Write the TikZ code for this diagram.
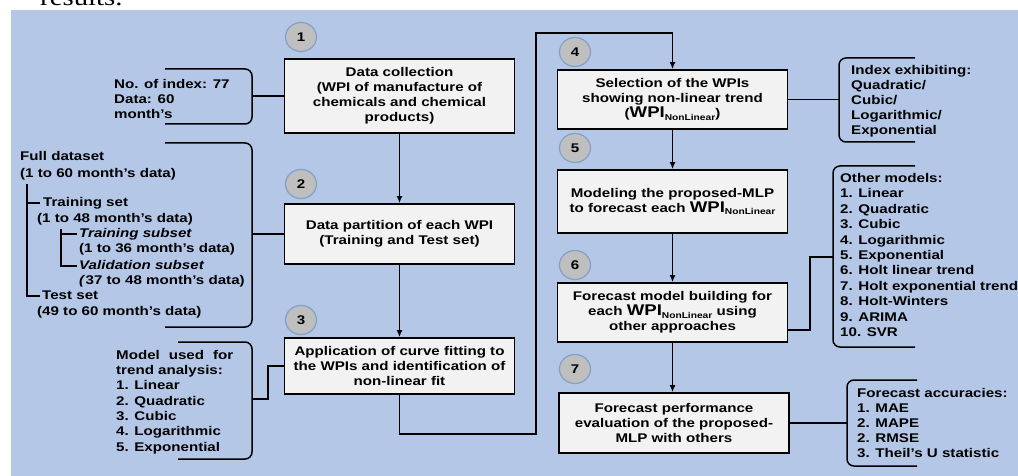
\documentclass[tikz,border=0pt]{standalone}
\usepackage{fontspec}
\setmainfont{Liberation Sans}[FakeStretch=1.2]
\newfontfamily\pageserif{Liberation Serif}[FakeStretch=1.2]
\usetikzlibrary{arrows.meta,shapes.geometric}
\definecolor{bgblue}{RGB}{180,199,231}
\definecolor{boxgray}{RGB}{242,242,242}
\definecolor{numgray}{RGB}{191,191,191}
\definecolor{numedge}{RGB}{132,160,199}
\tikzset{>={Latex[length=7pt,width=6pt]}}
\tikzset{
    stepbox/.style={draw,line width=1.8pt,fill=boxgray,minimum width=230pt,align=center,inner sep=0pt,font=\bfseries\fontsize{12.6}{15}\selectfont},
    stepnum/.style={ellipse,draw=numedge,line width=1.2pt,fill=numgray,minimum width=31pt,minimum height=29pt,inner sep=0pt,font=\bfseries\fontsize{12.6}{15}\selectfont},
    note/.style={align=left,inner sep=0pt,anchor=west,font=\bfseries\fontsize{12.6}{15}\selectfont},
    link/.style={line width=1.5pt},
    brline/.style={line width=1.5pt,rounded corners=7pt}
}
\newcommand{\wpi}{{\fontsize{15.5}{15}\selectfont WPI}\raisebox{-2.5pt}{\fontsize{8.5}{9}\selectfont NonLinear}}
\newcommand{\bracket}[4]{
    \draw[brline] (#1,#3) -- (#2,#3) -- (#2,#4) -- (#1,#4);
}

\begin{document}
\begin{tikzpicture}[x=1pt,y=-1pt]
    \useasboundingbox (0,0) rectangle (1018,476);
    \begin{scope}
        \clip (0,0) rectangle (1018,10);
        \node[anchor=base west,inner sep=0pt,font=\pageserif\fontsize{24}{24}\selectfont] (pagetext) at (40,6) {results.};
    \end{scope}
    \fill[bgblue] (11,10) rectangle (1018,476);
    % steps of the procedure
    \node[stepbox,minimum height=74pt] (collect) at (399.5,96) {Data collection\\(WPI of manufacture of\\chemicals and chemical\\products)};
    \node[stepbox,minimum height=60pt] (partition) at (399.5,234) {Data partition of each WPI\\(Training and Test set)};
    \node[stepbox,minimum height=56pt] (fitting) at (399.5,366) {Application of curve fitting to\\the WPIs and identification of\\non-linear fit};
    \node[stepbox,minimum height=59pt] (select) at (672.5,99.5) {Selection of the WPIs\\showing non-linear trend\\(\wpi)};
    \node[stepbox,minimum height=63pt] (mlp) at (672.5,201.5) {Modeling the proposed-MLP\\to forecast each \wpi};
    \node[stepbox,minimum height=59pt] (others) at (672.5,312.5) {Forecast model building for\\each \wpi{} using\\other approaches};
    \node[stepbox,minimum height=60pt] (evaluate) at (674,423) {Forecast performance\\evaluation of the proposed-\\MLP with others};
    \node[stepnum] (num1) at (301,37) {1};
    \node[stepnum] (num2) at (301,184) {2};
    \node[stepnum] (num3) at (301,320) {3};
    \node[stepnum] (num4) at (575,52) {4};
    \node[stepnum] (num5) at (575,148) {5};
    \node[stepnum] (num6) at (575,265) {6};
    \node[stepnum] (num7) at (575,369) {7};
    \draw[link,->] (collect) -- (partition);
    \draw[link,->] (partition) -- (fitting);
    \coordinate (loopcorner) at (536,33);
    \draw[link,->] (fitting.south) -- ++(0,39) -| (loopcorner) -| (select.north);
    \draw[link,->] (select) -- (mlp);
    \draw[link,->] (mlp) -- (others);
    \draw[link,->] (others.south) -- (others.south |- evaluate.north);
    % left side notes
    \node[note] (indexinfo) at (114,98.5) {No. of index: 77\\Data: 60\\month's};
    \bracket{165}{252}{69}{124}
    \coordinate (braceA) at (252,96);
    \draw[link] (braceA) -- (collect.west);
    \node[note,font=\bfseries\fontsize{12.6}{17}\selectfont] (fullset) at (20,165.5) {Full dataset\\(1 to 60 month's data)};
    \node[note,font=\bfseries\fontsize{12.6}{16}\selectfont] (trainset) at (37,211) {\hspace*{6pt}Training set\\(1 to 48 month's data)};
    \node[note] (trainsub) at (79,241.5) {\textit{Training subset}\\(1 to 36 month's data)};
    \node[note] (validsub) at (79,273.5) {\textit{Validation subset}\\\textit{(}37 to 48 month's data)};
    \node[note,font=\bfseries\fontsize{12.6}{16}\selectfont] (testset) at (37,304) {\hspace*{5pt}Test set\\(49 to 60 month's data)};
    \draw[link] ([xshift=7pt,yshift=-4pt]fullset.south west) |- ([xshift=3pt,yshift=8pt]testset.west);
    \draw[link] ([xshift=-10pt,yshift=8pt]trainset.west) -- ([xshift=3pt,yshift=8pt]trainset.west);
    \draw[link] ([xshift=-18pt,yshift=13pt]trainsub.west) |- ([xshift=-2pt,yshift=7.5pt]validsub.west);
    \draw[link] ([xshift=-18pt,yshift=7.5pt]trainsub.west) -- ([xshift=-2pt,yshift=7.5pt]trainsub.west);
    \bracket{165}{252}{143}{327}
    \coordinate (braceB) at (252,234);
    \draw[link] (braceB) -- (partition.west);
    \node[note,font=\bfseries\fontsize{12.6}{15.3}\selectfont] (trendmodels) at (116,402) {\makebox[117pt][s]{Model used for}\\trend analysis:\\1. Linear\\2. Quadratic\\3. Cubic\\4. Logarithmic\\5. Exponential};
    \bracket{178}{252}{342}{459}
    \coordinate (braceC) at (252,399);
    \draw[link] (braceC) -- ++(16,0) |- (fitting.west);
    % right side notes
    \node[note] (trendkind) at (851,101) {Index exhibiting:\\Quadratic/\\Cubic/\\Logarithmic/\\Exponential};
    \bracket{915}{839}{58}{142}
    \coordinate (braceD) at (839,99.5);
    \draw[link] (select.east) -- (braceD);
    \node[note,font=\bfseries\fontsize{12.6}{15.4}\selectfont] (othermodels) at (840,255) {Other models:\\1. Linear\\2. Quadratic\\3. Cubic\\4. Logarithmic\\5. Exponential\\6. Holt linear trend\\7. Holt exponential trend\\8. Holt-Winters\\9. ARIMA\\10. SVR};
    \bracket{915}{833}{166}{347}
    \coordinate (kneeE) at (810,257);
    \coordinate (braceE) at (833,257);
    \draw[link] ([yshift=-17.5pt]others.east) -| (kneeE) -- (braceE);
    \node[note] (accuracy) at (857,423) {Forecast accuracies:\\1. MAE\\2. MAPE\\2. RMSE\\3. Theil's U statistic};
    \bracket{917}{847}{380}{466}
    \coordinate (braceF) at (847,423);
    \draw[link] (evaluate.east) -- (braceF);
\end{tikzpicture}
\end{document}
